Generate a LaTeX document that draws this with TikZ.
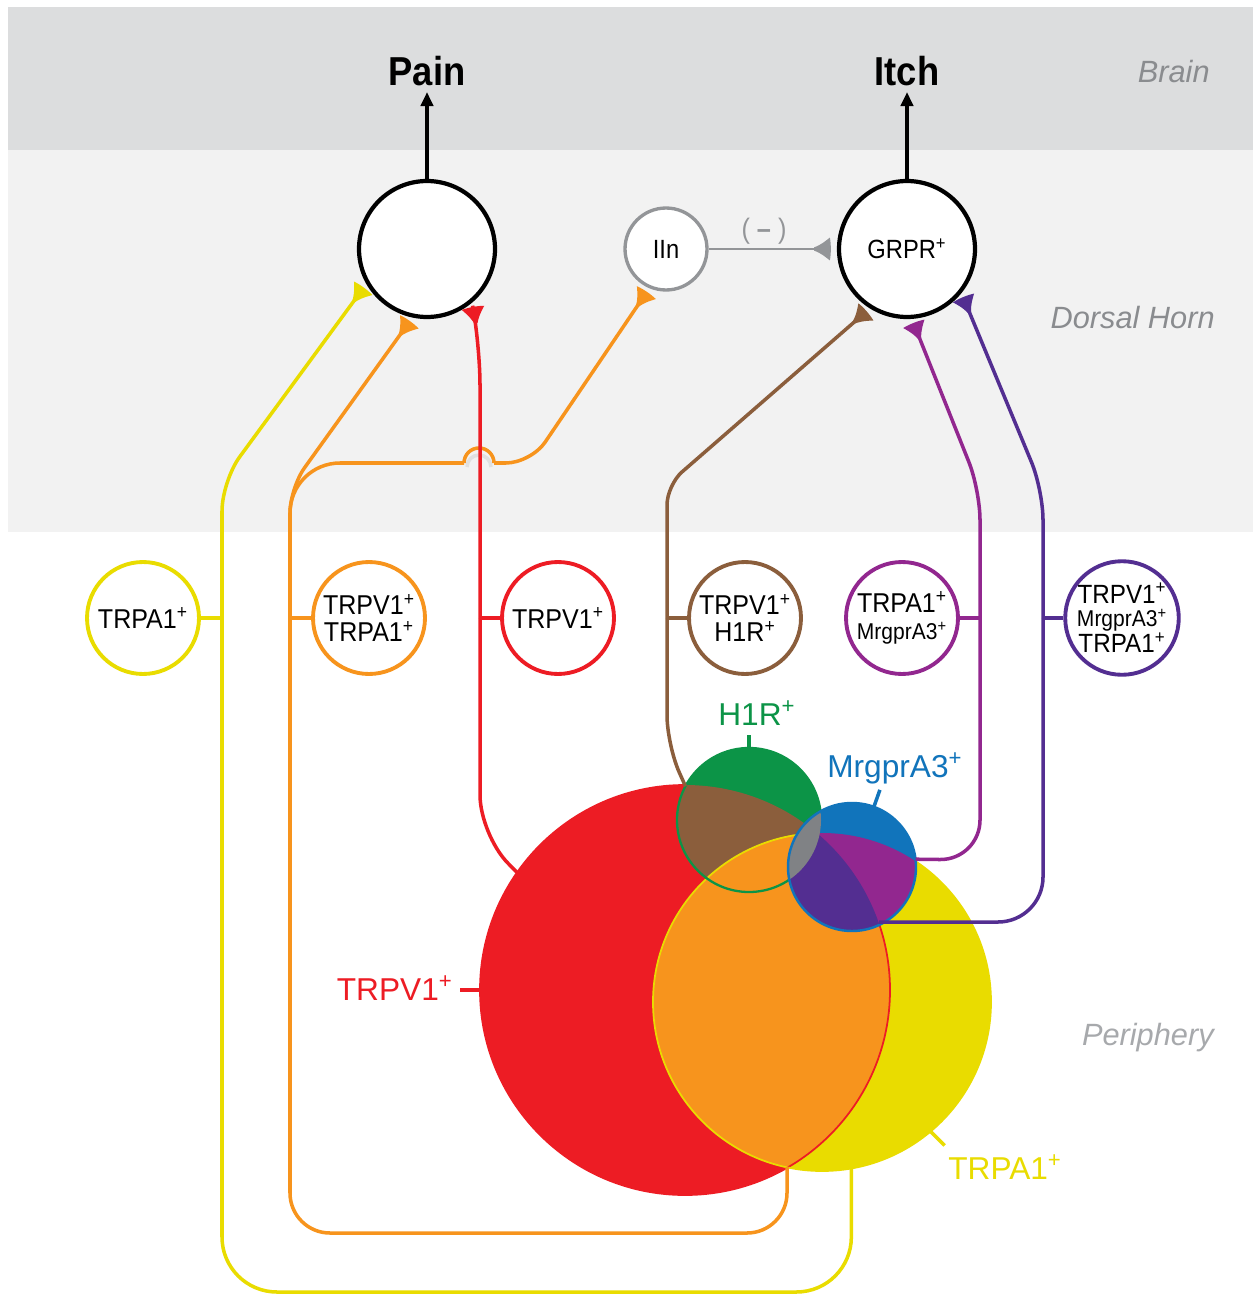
\documentclass[tikz,border=0pt]{standalone}
\usepackage{fontspec}
\setmainfont{Liberation Sans}
\newfontfamily\condsf{Liberation Sans}[FakeStretch=0.92]
\newfontfamily\semisf{Liberation Sans}[FakeStretch=0.9]
\usetikzlibrary{arrows.meta}

\definecolor{brainbg}{HTML}{DCDDDE}
\definecolor{hornbg}{HTML}{F2F2F2}
\definecolor{labgray}{HTML}{8A8C8F}
\definecolor{perigray}{HTML}{A7A9AC}
\definecolor{inhgray}{HTML}{939598}
\definecolor{cRed}{HTML}{ED1C24}
\definecolor{cYel}{HTML}{E9DC00}
\definecolor{cOrg}{HTML}{F7941D}
\definecolor{cGrn}{HTML}{0C9447}
\definecolor{cBrn}{HTML}{8B5E3C}
\definecolor{cBlu}{HTML}{1174BB}
\definecolor{cPur}{HTML}{92278F}
\definecolor{cInd}{HTML}{532E91}
\definecolor{cGry}{HTML}{808285}

\newcommand{\pos}{\textsuperscript{+}}

\pgfdeclarearrow{
  name = Bouton,
  parameters = {\the\pgfarrowlength,\the\pgfarrowwidth},
  setup code = {
    \pgfarrowssettipend{0pt}
    \pgfarrowssetbackend{-\pgfarrowlength}
    \pgfarrowssetlineend{-0.8\pgfarrowlength}
    \pgfarrowssavethe\pgfarrowlength
    \pgfarrowssavethe\pgfarrowwidth
  },
  drawing code = {
    \pgfpathmoveto{\pgfqpoint{-\pgfarrowlength}{0.9pt}}
    \pgfpathcurveto{\pgfqpoint{-0.5\pgfarrowlength}{0.2\pgfarrowwidth}}{\pgfqpoint{-0.15\pgfarrowlength}{0.42\pgfarrowwidth}}{\pgfqpoint{0pt}{0.5\pgfarrowwidth}}
    \pgfpathcurveto{\pgfqpoint{0.08\pgfarrowlength}{0.2\pgfarrowwidth}}{\pgfqpoint{0.08\pgfarrowlength}{-0.2\pgfarrowwidth}}{\pgfqpoint{0pt}{-0.5\pgfarrowwidth}}
    \pgfpathcurveto{\pgfqpoint{-0.15\pgfarrowlength}{-0.42\pgfarrowwidth}}{\pgfqpoint{-0.5\pgfarrowlength}{-0.2\pgfarrowwidth}}{\pgfqpoint{-\pgfarrowlength}{-0.9pt}}
    \pgfpathclose
    \pgfusepathqfill
  },
  defaults = {length=9pt, width=13pt}
}

\begin{document}
\begin{tikzpicture}[x=0.02cm, y=-0.02cm,
    main node/.style={circle, draw, fill=white, inner sep=0pt, minimum size=2.72cm, line width=2.4pt, font=\semisf\fontsize{15}{16}\selectfont},
    cell node/.style={circle, draw, fill=white, inner sep=0pt, minimum size=2.24cm, line width=2.2pt, align=center, font=\condsf\fontsize{15.5}{15.5}\selectfont},
    venn/.style={circle, inner sep=0pt, outer sep=0pt},
    venn label/.style={inner sep=0pt, font=\fontsize{18}{18}\selectfont},
    region/.style={anchor=base east, inner sep=0pt, font=\itshape\fontsize{17.5}{18}\selectfont, text=labgray},
    branch/.style={line width=2pt},
    fibre/.style={branch, -{Bouton}, shorten >=3pt}]

  \useasboundingbox (0,0) rectangle (1253,1294);
  \fill[white] (0,0) rectangle (1253,1294);
  \fill[brainbg] (8,7) rectangle (1253,150);
  \fill[hornbg] (8,150) rectangle (1253,532);

  \node[region] (brain) at (1210,83) {Brain};
  \node[region] (horn) at (1215,328) {Dorsal Horn};
  \node[region, text=perigray] (peri) at (1214,1045) {Periphery};

  \node[main node] (pain) at (427,249) {};
  \node[main node] (grpr) at (907,249) {GRPR\pos};
  \node[main node, draw=inhgray, line width=1.9pt, minimum size=1.64cm] (iln) at (666,249) {IIn};
  \node[font=\semisf\bfseries\fontsize{23}{24}\selectfont] (painlbl) at (427,71) {Pain};
  \node[font=\semisf\bfseries\fontsize{23}{24}\selectfont] (itchlbl) at (907,71) {Itch};

  \node[cell node, draw=cYel] (n1) at (143,618) {TRPA1\pos};
  \node[cell node, draw=cOrg] (n2) at (369,618) {TRPV1\pos\\TRPA1\pos};
  \node[cell node, draw=cRed] (n3) at (558,618) {TRPV1\pos};
  \node[cell node, draw=cBrn] (n4) at (745,618) {TRPV1\pos\\H1R\pos};
  \node[cell node, draw=cPur] (n5) at (902,618) {TRPA1\pos\\{\fontsize{13}{14}\selectfont MrgprA3\pos}};
  \node[cell node, draw=cInd, font=\condsf\fontsize{15}{13.3}\selectfont] (n6) at (1122,618) {TRPV1\pos\\{\fontsize{13}{13.3}\selectfont MrgprA3\pos}\\TRPA1\pos};

  \node[venn, minimum size=8.2cm] (vred) at (685,990) {};
  \node[venn, minimum size=6.76cm] (vyel) at (822,1002) {};
  \node[venn, minimum size=2.88cm] (vgrn) at (749,820) {};
  \node[venn, minimum size=2.56cm] (vblu) at (852,867) {};

  \fill[cRed] (vred) circle[radius=205];
  \fill[cYel] (vyel) circle[radius=169];
  \begin{scope}
    \clip (vred) circle[radius=205];
    \fill[cOrg] (vyel) circle[radius=169];
  \end{scope}
  \draw[cRed, line width=1pt] (vred) circle[radius=205];
  \fill[cGrn] (vgrn) circle[radius=72];
  \begin{scope}
    \clip (vred) circle[radius=205];
    \fill[cBrn] (vgrn) circle[radius=72];
    \clip (vyel) circle[radius=169];
    \fill[cOrg] (vgrn) circle[radius=72];
  \end{scope}
  \draw[cYel, line width=1pt] (vyel) circle[radius=169];
  \draw[cGrn, line width=1.3pt] (vgrn) circle[radius=72];
  \fill[cBlu] (vblu) circle[radius=64];
  \begin{scope}
    \clip (vyel) circle[radius=169];
    \fill[cPur] (vblu) circle[radius=64];
    \clip (vred) circle[radius=205];
    \fill[cInd] (vblu) circle[radius=64];
  \end{scope}
  \begin{scope}
    \clip (vgrn) circle[radius=72];
    \fill[cGry] (vblu) circle[radius=64];
  \end{scope}
  \draw[cBlu, line width=1.4pt] (vblu) circle[radius=64];

  \node[venn label, text=cGrn, anchor=base west] (h1rlbl) at (718,725) {H1R\pos};
  \node[venn label, text=cBlu, anchor=base west] (mrglbl) at (827,777) {MrgprA3\pos};
  \node[venn label, text=cRed, anchor=base east] (trpvlbl) at (453,1000) {TRPV1\pos};
  \node[venn label, text=cYel, anchor=base west] (trpalbl) at (948,1179) {TRPA1\pos};
  \draw[branch, cGrn] (vgrn.north) -- ++(0,-13);
  \draw[branch, cBlu] (vblu.70) -- ++(6,-17);
  \draw[branch, cRed] (vred.west) -- ++(-20,0);
  \draw[branch, cYel] (vyel.310) -- ++(14,14);

  \coordinate (ybot) at (222,1292);
  \coordinate (yj) at (222,618);
  \coordinate (ytop) at (222,481);
  \coordinate (rylow) at (787,1167);
  \coordinate (obot) at (290,1233);
  \coordinate (oj) at (290,618);
  \coordinate (otop) at (290,488);
  \coordinate (rbot) at (480,835);
  \coordinate (rj) at (480,618);
  \coordinate (rtop) at (480,345);
  \coordinate (bbot) at (667,745);
  \coordinate (bj) at (667,618);
  \coordinate (btop) at (667,485);
  \coordinate (pbot) at (980,860);
  \coordinate (pj) at (980,618);
  \coordinate (ptop) at (980,490);
  \coordinate (ibot) at (1043,922);
  \coordinate (ij) at (1043,618);
  \coordinate (itop) at (1043,490);

  \draw[branch, cYel, rounded corners=1.1cm] (vyel.280) |- (ybot) -- (yj);
  \draw[fibre, cYel, rounded corners=0.6cm] (yj) -- (ytop) -- (pain.210);
  \draw[branch, cOrg, rounded corners=0.8cm] (rylow) |- (obot) -- (oj);
  \draw[fibre, cOrg, rounded corners=0.5cm] (oj) -- (otop) -- (pain.258);
  \draw[branch, cOrg, rounded corners=1cm] (oj) -- (290,463) -- (464,463);
  \draw[black!12, line width=2pt] (467,467) arc[start angle=180, end angle=360, radius=12];
  \draw[branch, cOrg] (464,463) arc[start angle=180, end angle=360, radius=15];
  \draw[fibre, cOrg, rounded corners=0.5cm] (494,463) -- (531,463) -- (iln.247);
  \draw[branch, cRed, rounded corners=0.8cm] (vred.145) -- (rbot) -- (rj);
  \draw[fibre, cRed, rounded corners=0.8cm] (rj) -- (rtop) -- (pain.310);
  \draw[branch, cBrn, rounded corners=0.6cm] (vgrn.152) -- (bbot) -- (bj);
  \draw[fibre, cBrn, rounded corners=0.4cm] (bj) -- (btop) -- (grpr.238);
  \draw[branch, cPur, rounded corners=0.8cm] (vblu.7) -- (pbot) -- (pj);
  \draw[fibre, cPur, rounded corners=0.6cm] (pj) -- (ptop) -- (grpr.274);
  \draw[branch, cInd, rounded corners=0.9cm] (vblu.295 |- ibot) -- (ibot) -- (ij);
  \draw[fibre, cInd, rounded corners=0.6cm] (ij) -- (itop) -- (grpr.321);

  \draw[branch, cYel] (n1) -- (yj);
  \draw[branch, cOrg] (n2) -- (oj);
  \draw[branch, cRed] (n3) -- (rj);
  \draw[branch, cBrn] (n4) -- (bj);
  \draw[branch, cPur] (n5) -- (pj);
  \draw[branch, cInd] (n6) -- (ij);

  \draw[line width=1.6pt, inhgray, -{Bouton}, shorten >=4pt] (iln) -- (grpr);
  \node[text=inhgray, font=\semisf\fontsize{16}{16}\selectfont] (sign) at (764,231) {( \textbf{–} )};
  \draw[line width=2.4pt, -{Triangle[length=8pt,width=7pt]}] (pain) -- (painlbl);
  \draw[line width=2.4pt, -{Triangle[length=8pt,width=7pt]}] (grpr) -- (itchlbl);
\end{tikzpicture}
\end{document}
